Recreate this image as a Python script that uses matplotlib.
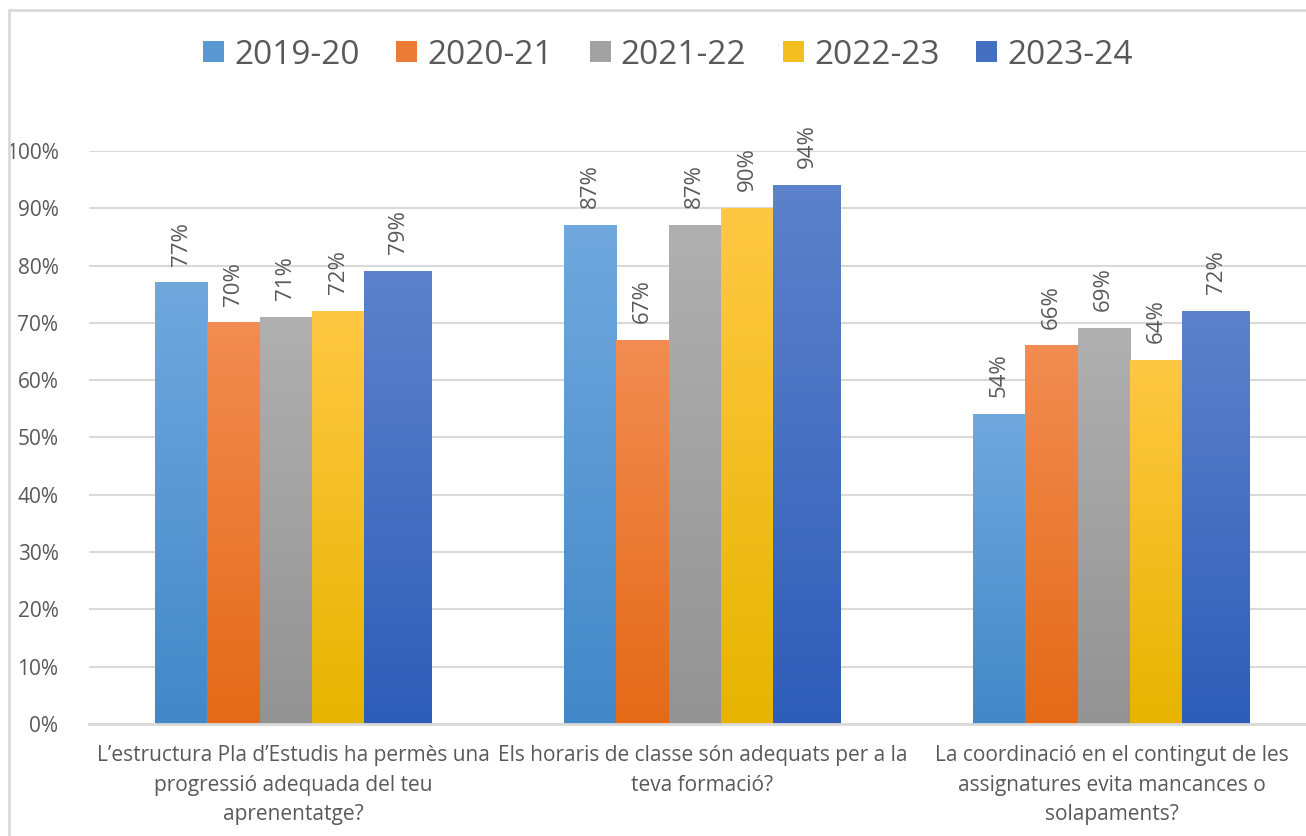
import numpy as np
import matplotlib.pyplot as plt
from matplotlib.colors import LinearSegmentedColormap
from matplotlib.patches import Rectangle

categories = [
    "L\u2019estructura Pla d\u2019Estudis ha permès una\nprogressió adequada del teu\naprenentatge?",
    "Els horaris de classe són adequats per a la\nteva formació?",
    "La coordinació en el contingut de les\nassignatures evita mancances o\nsolapaments?",
]
years = ["2019-20", "2020-21", "2021-22", "2022-23", "2023-24"]
v_2019 = [0.77, 0.87, 0.54]
v_2020 = [0.70, 0.67, 0.66]
v_2021 = [0.71, 0.87, 0.69]
v_2022 = [0.72, 0.90, 0.635]
v_2023 = [0.79, 0.94, 0.72]
series = [v_2019, v_2020, v_2021, v_2022, v_2023]

# top / bottom of the gradient fill
tops = ["#70A8DE", "#F28C52", "#B0B0B0", "#FFC843", "#5D82CB"]
bottoms = ["#4288C8", "#E46A17", "#939393", "#E6B400", "#2E5DB8"]

plt.rcParams['font.family'] = ['Open Sans', 'DejaVu Sans']
txt = "#595959"
grid = "#D9D9D9"

fig = plt.figure(figsize=(13.06, 8.36), dpi=100)
ax = fig.add_axes([89/1306, 112/836, 1227/1306, 573/836])

x = np.arange(len(categories))
widths = [0.128, 0.128, 0.128, 0.128, 0.166]
start = -0.339
for i, (vals, yr) in enumerate(zip(series, years)):
    left = start + sum(widths[:i])
    bars = ax.bar(x + left, vals, width=widths[i], align='edge', color='none',
                  edgecolor='none', label=yr, zorder=2)
    cmap = LinearSegmentedColormap.from_list(yr, [bottoms[i], tops[i]])
    for b, v in zip(bars, vals):
        x0 = b.get_x()
        grad = np.linspace(0, 1, 256).reshape(-1, 1)
        ax.imshow(grad, cmap=cmap, origin='lower', aspect='auto',
                  extent=[x0, x0 + b.get_width(), 0, v], zorder=2)
        ax.text(x0 + b.get_width() / 2, v + 0.03, f"{round(v * 100):.0f}%",
                rotation=90, ha='center', va='bottom', fontsize=16,
                color=txt, clip_on=False)

ax.set_xlim(-0.5, 2.5)
ax.set_ylim(0, 1)
ax.set_yticks(np.arange(0, 1.01, 0.1))
ax.set_yticklabels([f"{int(round(t * 100))}%" for t in np.arange(0, 1.01, 0.1)])
ax.set_xticks(x)
ax.set_xticklabels(categories, linespacing=1.55)
ax.tick_params(axis='y', length=0, pad=22, labelsize=15, labelcolor=txt)
ax.tick_params(axis='x', length=0, pad=15, labelsize=15, labelcolor=txt)
ax.yaxis.grid(True, color=grid, linewidth=1.5, zorder=0)
ax.set_axisbelow(True)
for s in ['top', 'right', 'left']:
    ax.spines[s].set_visible(False)
ax.spines['bottom'].set_color(grid)
ax.spines['bottom'].set_linewidth(2)
ax.spines['bottom'].set_zorder(3)

handles = [Rectangle((0, 0), 1, 1, facecolor=c) for c in
           ["#5A98D3", "#EC7B35", "#A2A2A2", "#F5BE20", "#4570C2"]]
fig.legend(handles, years, loc='center', bbox_to_anchor=(668/1306, 1 - 55/836),
           ncol=5, frameon=False, fontsize=24, labelcolor=txt,
           handlelength=0.63, handleheight=0.6, handletextpad=0.3,
           columnspacing=1.1)

fig.add_artist(Rectangle((9/1306, -0.1), 1.2, 1 - 10/836 + 0.1,
                         transform=fig.transFigure, fill=False,
                         edgecolor=grid, linewidth=2))

fig.savefig("out.png", dpi=100)
